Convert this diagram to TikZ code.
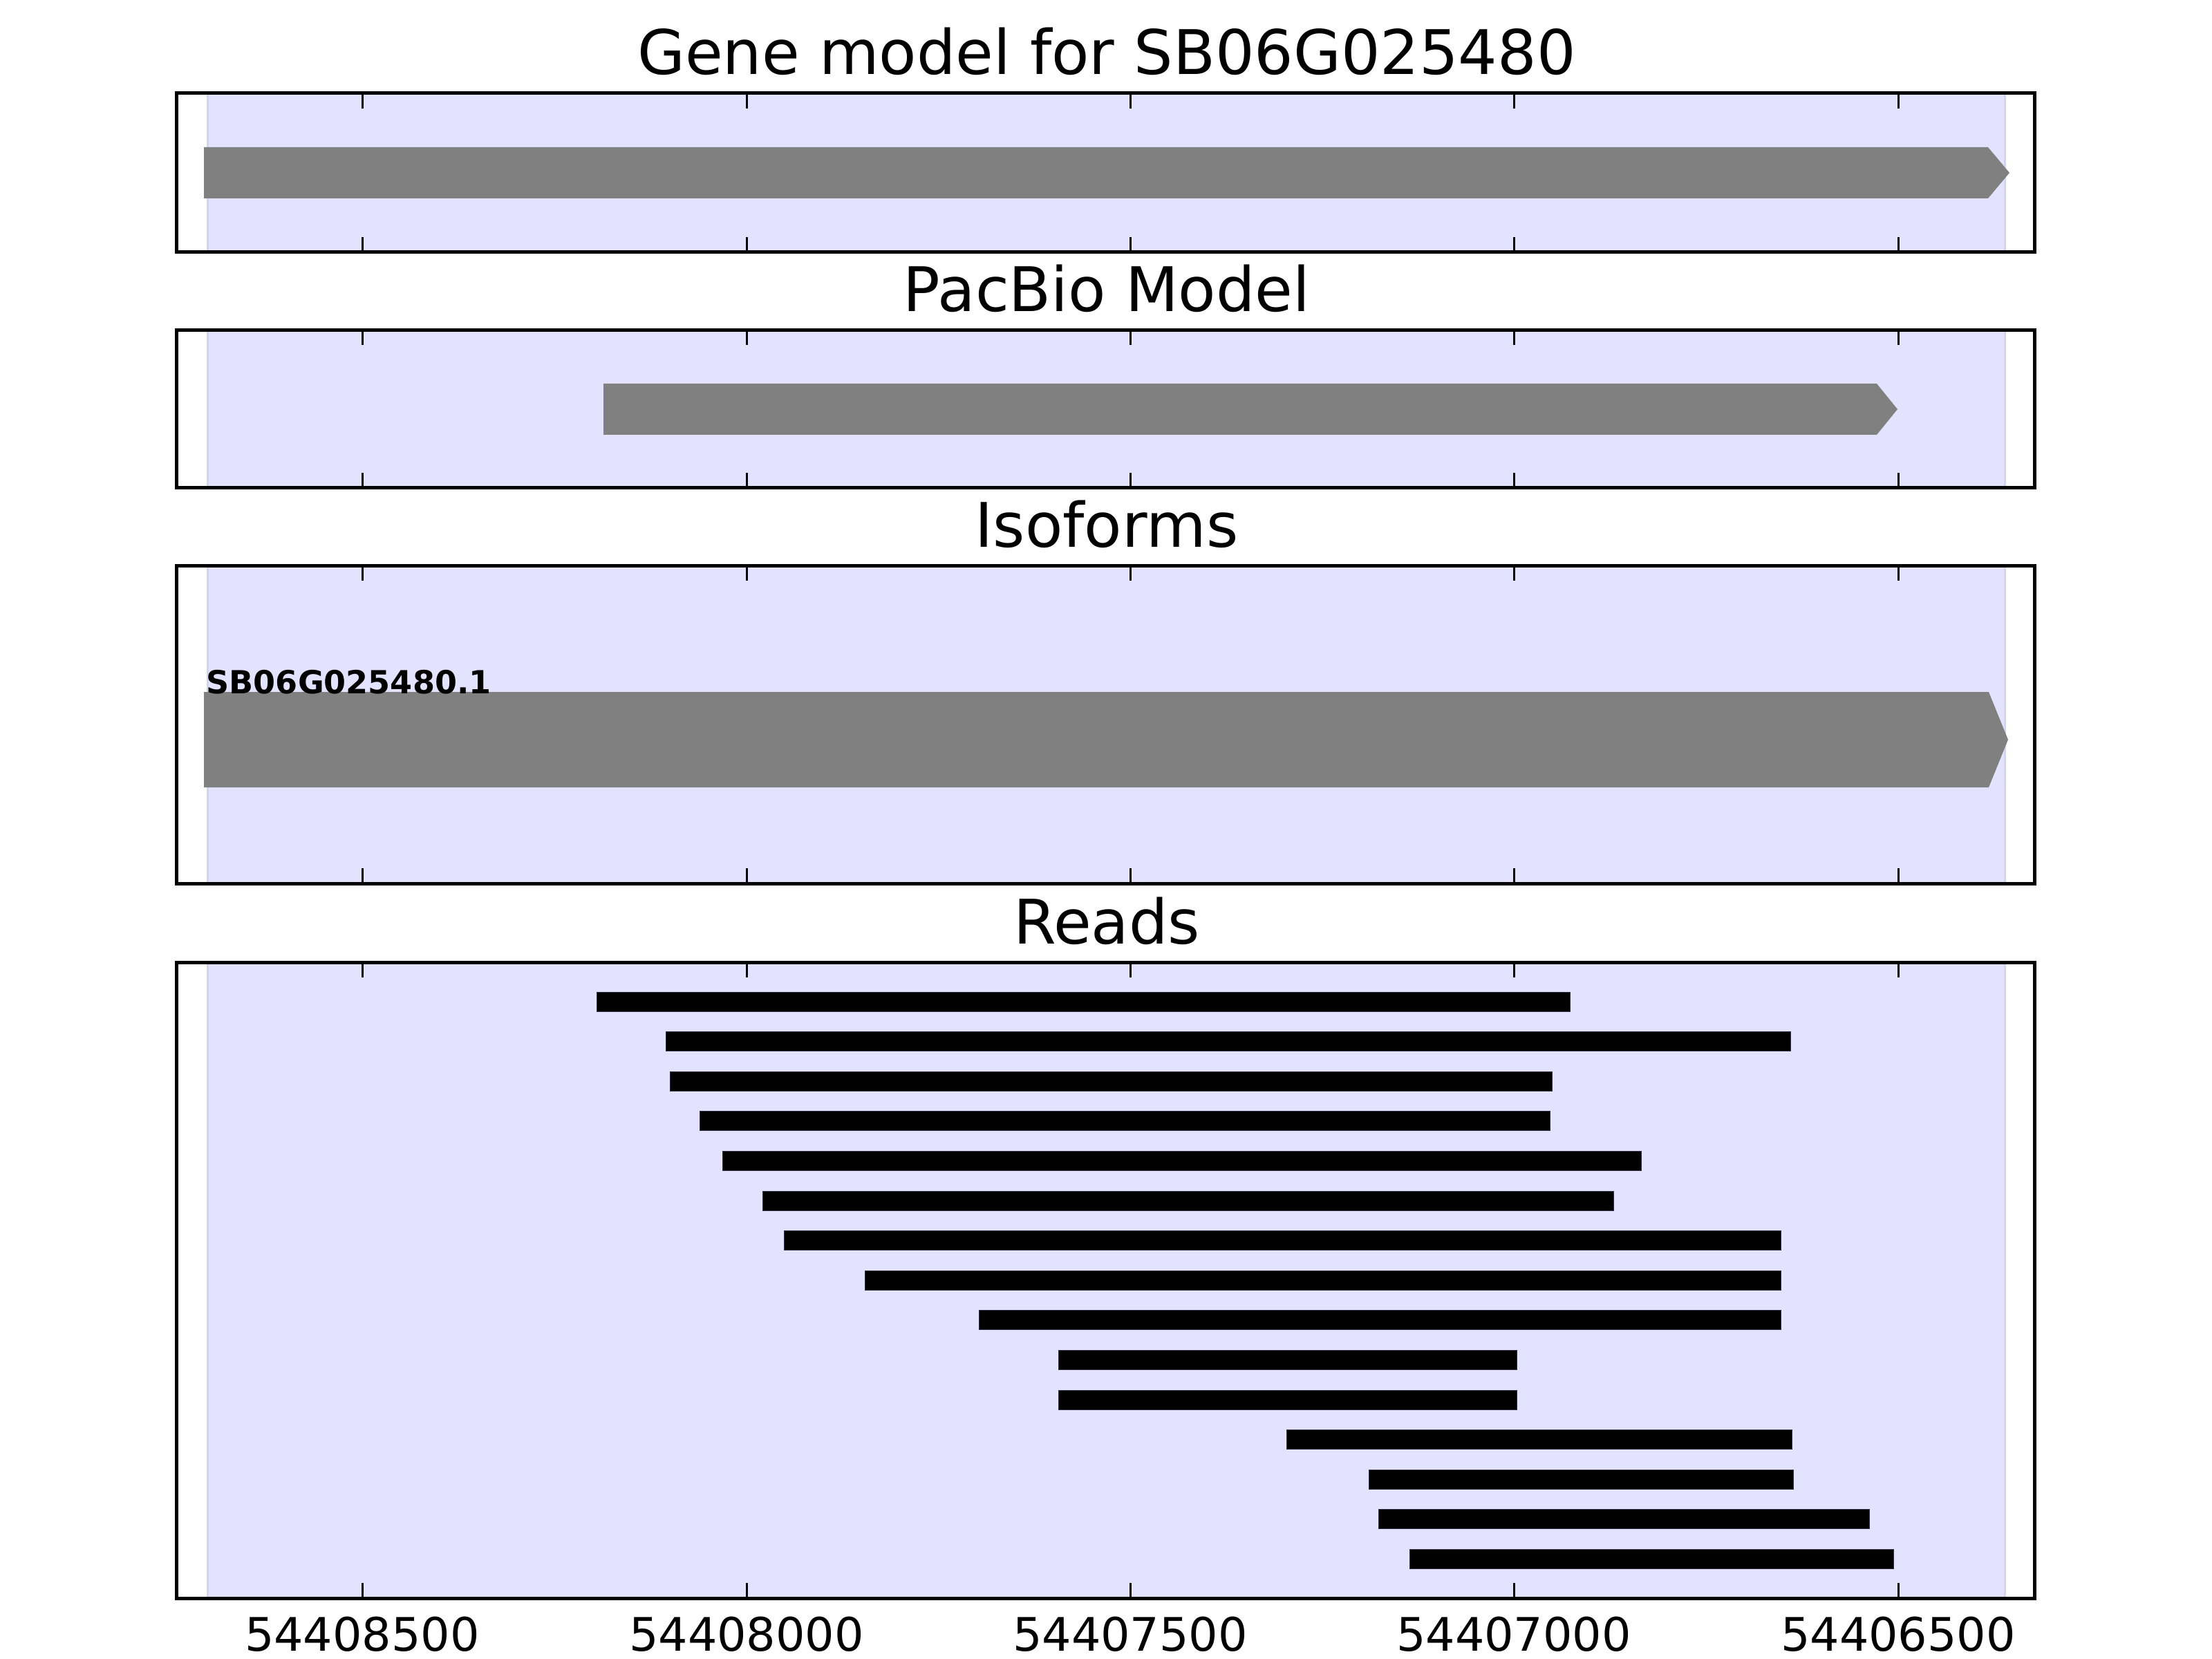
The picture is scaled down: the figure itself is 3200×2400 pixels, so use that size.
\documentclass[tikz,border=0pt]{standalone}
\usepackage{fontspec}
\setmainfont{DejaVu Sans}
\usepackage{tikz}
\definecolor{spanblue}{RGB}{227,227,255}
\definecolor{spanedge}{RGB}{212,212,238}
\definecolor{modelgray}{RGB}{128,128,128}
\definecolor{readedge}{RGB}{45,45,70}

\begin{document}
\begin{tikzpicture}[x=0.1mm, y=-0.1mm,
    frame/.style={draw=black, line width=0.5mm},
    tickmark/.style={draw=black, line width=0.3mm},
    paneltitle/.style={anchor=base, font=\fontsize{25.3}{30}\selectfont},
    ticklabel/.style={anchor=base, font=\fontsize{19}{23}\selectfont},
    modelbar/.style={fill=modelgray},
    readbar/.style={fill=black, draw=readedge, line width=0.1mm}]
    \useasboundingbox (0,0) rectangle (3200,2400);

    % Panels: span shading, ticks, frame
    \foreach \t/\b in {135/365, 477.5/706, 818/1278, 1392/2312} {
        \fill[spanblue] (300,\t) rectangle (2900,\b);
        \draw[spanedge, line width=0.3mm] (300,\t) -- (300,\b) (2900,\t) -- (2900,\b);
        \foreach \x in {524,1080,1635,2190,2746}
            \draw[tickmark] (\x,\t) -- ++(0,22) (\x,\b) -- ++(0,-22);
        \draw[frame] (255,\t) rectangle (2943,\b);
    }

    % Titles
    \node[paneltitle] (genetitle) at (1601,108) {Gene model for SB06G025480};
    \node[paneltitle] (pacbiotitle) at (1601,450.5) {PacBio Model};
    \node[paneltitle] (isotitle) at (1601,791) {Isoforms};
    \node[paneltitle] (readstitle) at (1601,1365) {Reads};

    % Gene model
    \fill[modelbar] (295,213) -- (2876,213) -- (2907,250) -- (2876,287) -- (295,287) -- cycle;

    % PacBio model
    \fill[modelbar] (873,555) -- (2715,555) -- (2745,592) -- (2715,629) -- (873,629) -- cycle;

    % Isoform
    \fill[modelbar] (295,1001) -- (2877,1001) -- (2905,1070) -- (2877,1139) -- (295,1139) -- cycle;
    \node[anchor=base west, inner sep=0pt, font=\bfseries\fontsize{13.1}{15}\selectfont] (isolabel) at (298,1003) {SB06G025480.1};

    % Reads
    \foreach \l/\r [count=\i] in {863/2271, 963/2590, 969/2245, 1012/2242, 1045/2374,
        1103/2334, 1134/2576, 1251/2576, 1416/2576, 1531/2194, 1531/2194,
        1861/2592, 1980/2594, 1994/2704, 2039/2739}
        \filldraw[readbar] (\l,{1435+(\i-1)*57.6}) rectangle (\r,{1463+(\i-1)*57.6});

    % Axis labels
    \foreach \x/\v in {524/54408500, 1080/54408000, 1635/54407500, 2190/54407000, 2746/54406500}
        \node[ticklabel] (tick\v) at (\x,2388) {\v};
\end{tikzpicture}
\end{document}
